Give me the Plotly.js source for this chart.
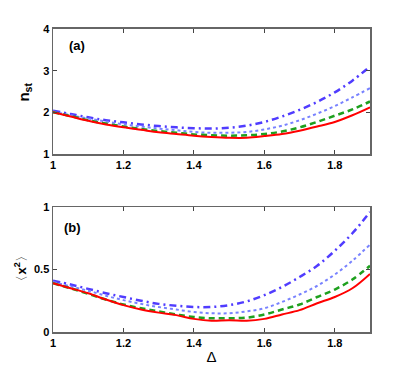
<!DOCTYPE html>
<html>
<head>
<meta charset="utf-8">
<script src="https://cdn.plot.ly/plotly-3.0.1.min.js"></script>
<style>
  html, body { margin: 0; padding: 0; background: #fff; }
  #plot { width: 409px; height: 373px; }
</style>
</head>
<body>
<div id="plot"></div>
<script>
// detuning values, shared by both panels
const delta = [1.00, 1.05, 1.10, 1.15, 1.20, 1.25, 1.30, 1.35, 1.40, 1.45,
               1.50, 1.55, 1.60, 1.65, 1.70, 1.75, 1.80, 1.85, 1.90];

// panel (a): n_st
const nRed    = [2.00, 1.90, 1.80, 1.71, 1.64, 1.58, 1.52, 1.48, 1.44, 1.41,
                 1.39, 1.39, 1.43, 1.48, 1.56, 1.66, 1.77, 1.93, 2.12];
const nGreen  = [2.00, 1.91, 1.81, 1.73, 1.66, 1.60, 1.55, 1.51, 1.47, 1.45,
                 1.44, 1.45, 1.48, 1.54, 1.64, 1.77, 1.92, 2.07, 2.26];
const nDot    = [2.02, 1.93, 1.85, 1.78, 1.71, 1.66, 1.61, 1.57, 1.53, 1.51,
                 1.51, 1.53, 1.59, 1.68, 1.81, 1.97, 2.15, 2.36, 2.58];
const nDashDot = [2.04, 1.96, 1.88, 1.81, 1.76, 1.71, 1.67, 1.64, 1.62, 1.61,
                  1.63, 1.68, 1.77, 1.90, 2.06, 2.25, 2.48, 2.76, 3.10];

// panel (b): <x^2>
const xRed    = [0.39, 0.35, 0.31, 0.26, 0.215, 0.18, 0.155, 0.135, 0.105, 0.09,
                 0.095, 0.09, 0.105, 0.14, 0.175, 0.23, 0.28, 0.35, 0.465];
const xGreen  = [0.39, 0.35, 0.305, 0.26, 0.22, 0.19, 0.165, 0.14, 0.12, 0.11,
                 0.11, 0.115, 0.14, 0.18, 0.22, 0.28, 0.34, 0.42, 0.53];
const xDot    = [0.40, 0.365, 0.33, 0.29, 0.255, 0.225, 0.20, 0.18, 0.16, 0.15,
                 0.15, 0.165, 0.19, 0.24, 0.30, 0.37, 0.46, 0.57, 0.70];
const xDashDot = [0.41, 0.38, 0.345, 0.31, 0.28, 0.25, 0.225, 0.21, 0.20, 0.20,
                  0.215, 0.245, 0.295, 0.36, 0.44, 0.53, 0.65, 0.79, 0.96];

const xTicks = [1, 1.2, 1.4, 1.6, 1.8];
const topTicks = [1, 2, 3, 4];
const botTicks = [0, 0.5, 1];

const styles = [
  { color: 'rgb(255,0,0)',    dash: 'solid',   width: 2 },
  { color: 'rgb(30,160,30)',  dash: '6px,4px', width: 2.5 },
  { color: 'rgb(120,130,255)', dash: 'dot',    width: 2 },
  { color: 'rgb(80,60,255)',  dash: '7px,4px,2px,4px', width: 2.5 }
];

function makeTraces(series, xa, ya) {
  // draw back to front so the red one sits on top
  const out = [];
  for (let i = series.length - 1; i >= 0; i--) {
    out.push({
      x: delta, y: series[i], xaxis: xa, yaxis: ya,
      type: 'scatter', mode: 'lines',
      line: { color: styles[i].color, dash: styles[i].dash, width: styles[i].width, shape: 'spline', smoothing: 1 },
      hoverinfo: 'skip', showlegend: false
    });
  }
  return out;
}

const data = makeTraces([nRed, nGreen, nDot, nDashDot], 'x', 'y')
  .concat(makeTraces([xRed, xGreen, xDot, xDashDot], 'x2', 'y2'));

const tickFont = { family: 'Liberation Sans, Arial, sans-serif', size: 11, color: '#000', weight: 700 };

function xAxis(anchor) {
  return {
    anchor: anchor, range: [1, 1.9], tickvals: xTicks, ticktext: xTicks.map(String),
    ticks: 'inside', ticklen: 4, tickcolor: '#444', mirror: 'ticks',
    showline: true, linecolor: '#666', linewidth: 1.5,
    showgrid: false, zeroline: false, tickfont: tickFont
  };
}
function yAxis(anchor, range, vals, dom) {
  return {
    anchor: anchor, range: range, tickvals: vals, ticktext: vals.map(String), domain: dom,
    ticks: 'inside', ticklen: 4, tickcolor: '#444', mirror: 'ticks',
    showline: true, linecolor: '#666', linewidth: 1.5,
    showgrid: false, zeroline: false, tickfont: tickFont
  };
}

const xa2 = xAxis('y2');
xa2.title = { text: 'Δ', font: { family: 'Liberation Sans, Arial, sans-serif', size: 15, color: '#000' }, standoff: 4 };

const layout = {
  width: 409, height: 373,
  margin: { l: 53, r: 39, t: 0, b: 0 },
  paper_bgcolor: '#fff', plot_bgcolor: '#fff',
  xaxis: xAxis('y'),
  yaxis: yAxis('x', [1, 4], topTicks, [0.5871, 0.9223]),
  xaxis2: xa2,
  yaxis2: yAxis('x2', [0, 1], botTicks, [0.1099, 0.4450]),
  annotations: [
    { text: '<b>(a)</b>', xref: 'x', yref: 'y', x: 1.04, y: 3.6, xanchor: 'left', showarrow: false,
      font: { family: 'Liberation Sans, Arial, sans-serif', size: 13, color: '#000' } },
    { text: '<b>(b)</b>', xref: 'x2', yref: 'y2', x: 1.025, y: 0.84, xanchor: 'left', showarrow: false,
      font: { family: 'Liberation Sans, Arial, sans-serif', size: 13, color: '#000' } },
    { text: '<b>n<sub>st</sub></b>', xref: 'paper', yref: 'paper', x: -0.09, y: 0.753, textangle: -90,
      xanchor: 'center', yanchor: 'middle',
      showarrow: false, font: { family: 'Liberation Sans, Arial, sans-serif', size: 15, color: '#000' } },
    { text: '〈<b>x</b><sup><b>2</b></sup>〉', xref: 'paper', yref: 'paper', x: -0.104, y: 0.28, textangle: -90,
      xanchor: 'center', yanchor: 'middle',
      showarrow: false, font: { family: 'Liberation Sans, Arial, sans-serif', size: 13, color: '#000' } }
  ]
};

Plotly.newPlot('plot', data, layout, { staticPlot: true, displayModeBar: false });
</script>
</body>
</html>
